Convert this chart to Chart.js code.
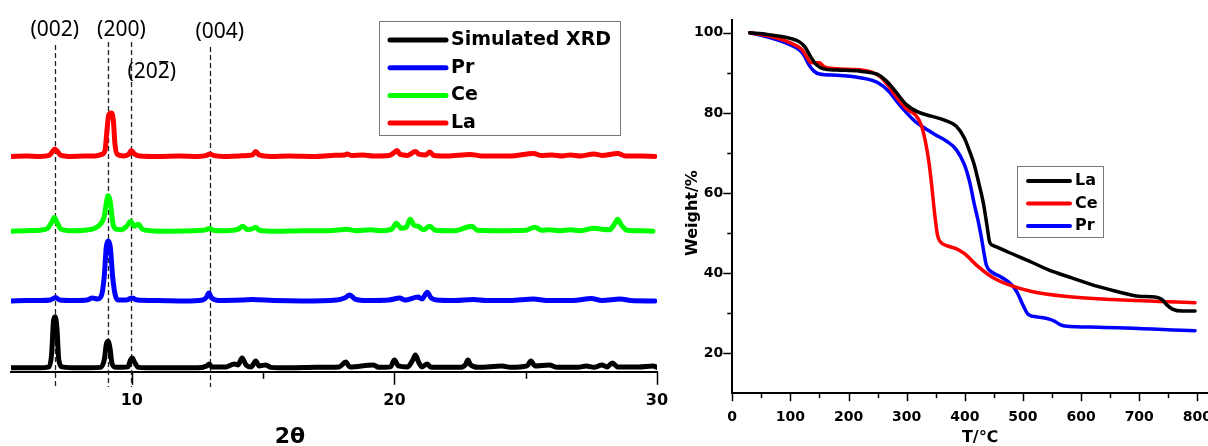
<!DOCTYPE html>
<html>
<head>
<meta charset="utf-8">
<title>XRD patterns and TGA curves</title>
<script src="https://cdn.jsdelivr.net/npm/chart.js@4.4.0/dist/chart.umd.min.js"></script>
<style>
  html, body { margin: 0; padding: 0; background: #fff; }
  body { position: relative; width: 1208px; height: 446px; overflow: hidden; }
  canvas { position: absolute; top: 0; }
  #xrd { left: 0; }
  #tga { left: 675px; }
</style>
</head>
<body>
<canvas id="xrd" width="675" height="446"></canvas>
<canvas id="tga" width="545" height="446"></canvas>
<script>
// ---------- XRD: [2θ, intensity a.u.], each pattern lifted by its own offset ----------
const xrdNames = ['Simulated XRD', 'Pr', 'Ce', 'La'];
const xrdColors = ['#000000', '#0000ff', '#00ff00', '#ff0000'];
const xrdOffsets = [4, 72, 143, 219];

const simulated = [
  [5.4,0],[6.5,0],[6.85,1],[6.95,15],[7.02,48],[7.08,52],[7.15,40],[7.22,8],[7.35,1],[8,0],
  [8.8,0.5],[8.95,8],[9.03,24],[9.1,27],[9.17,20],[9.25,4],[9.4,0.5],[9.85,1],[9.95,8],[10.02,10],
  [10.1,6],[10.25,0.5],[11,0],[12.5,0],[12.85,2],[12.95,4],[13.05,1],[13.6,1],[13.9,4],[14.05,3],
  [14.2,10],[14.35,3],[14.55,1],[14.72,7],[14.85,2],[15.1,3],[15.3,0.5],[16,0],[17,0.5],[17.9,1],
  [18.15,6],[18.3,1],[19.2,3],[19.4,0.5],[19.85,1],[20.0,8],[20.15,2],[20.5,1],[20.7,8],[20.8,13],
  [20.92,6],[21.05,1],[21.25,4],[21.4,0.5],[22.5,0.5],[22.7,3],[22.8,8],[22.9,3],[23.2,0.5],[24.1,2],
  [24.4,0.5],[25.05,2],[25.2,7],[25.35,2],[25.9,3],[26.2,0.5],[27,0.5],[27.3,2],[27.6,0.5],[27.9,3],
  [28.1,1],[28.3,5],[28.5,1],[29.3,1],[29.85,2],[30,0.5]
];
const pr = [
  [5.4,0],[6,0.5],[6.5,0.5],[6.9,1],[7.1,3.5],[7.25,1],[7.8,0.5],[8.3,1],[8.5,3],[8.7,2],
  [8.85,6],[8.95,25],[9.03,55],[9.1,61],[9.18,55],[9.27,25],[9.37,6],[9.5,1],[9.8,1],[10.0,3],
  [10.2,1],[11,0.5],[12,0],[12.7,1],[12.85,4],[12.93,8],[13.05,3],[13.3,0.5],[14.2,1],[14.6,1.5],
  [15.4,0.5],[16.5,0],[17.8,1],[18.1,3],[18.3,6],[18.5,2],[19,0.5],[19.8,1],[20.2,3],[20.4,1],
  [20.9,4],[21.05,2],[21.25,9],[21.4,3],[21.6,1],[22.3,0.5],[23.0,1.5],[23.5,0.5],[24.4,0.5],[25.3,2],
  [25.8,0.5],[26.8,0.5],[27.5,2.5],[27.9,0.5],[28.6,2],[29,0.5],[29.92,0]
];
const ce = [
  [5.4,0],[6,0.5],[6.5,1],[6.8,3],[6.95,9],[7.05,14],[7.15,9],[7.3,2],[7.6,0.5],[8.2,1],
  [8.6,3],[8.8,7],[8.95,15],[9.04,30],[9.1,36],[9.18,30],[9.28,8],[9.4,2],[9.6,1.5],[9.8,5],
  [9.96,10],[10.1,5],[10.25,7],[10.4,2],[10.7,0.5],[11.5,0],[12.4,0.5],[12.85,1.5],[12.97,3],[13.1,1],
  [13.6,0.5],[14.05,2],[14.23,5],[14.4,1.5],[14.6,2.5],[14.72,4],[14.85,1],[15.5,0],[16.5,0.5],[17.5,0.5],
  [18.2,2],[18.5,0.5],[19.1,1.5],[19.5,0.5],[19.9,2],[20.08,8],[20.25,3],[20.45,4],[20.6,12],[20.75,6],
  [20.9,5],[21.1,1.5],[21.35,5],[21.55,1],[22.3,0.5],[22.95,5],[23.15,1],[24,0.5],[25.0,1],[25.35,4],
  [25.6,1],[25.9,1.5],[26.3,0.5],[26.7,1.5],[27.1,0.5],[27.6,3],[27.9,2],[28.2,1.5],[28.4,8],[28.5,12],
  [28.65,6],[28.85,1],[29.4,0.5],[29.85,0]
];
const la = [
  [5.4,0],[6,0.5],[6.5,0],[6.85,1],[6.98,5],[7.07,7.5],[7.17,5],[7.3,1],[7.6,0],[8.2,0.5],
  [8.6,0.5],[8.85,2],[8.98,6],[9.05,25],[9.12,42],[9.22,44],[9.3,36],[9.36,12],[9.45,2],[9.7,0.5],
  [9.88,2],[9.98,6],[10.1,2.5],[10.3,0.5],[11,0],[11.8,0.5],[12.5,0],[12.85,1],[12.97,2.5],[13.1,1],
  [13.5,0],[14.1,0.5],[14.6,1.5],[14.72,5],[14.85,1.5],[15.3,0],[16,0.5],[17,0],[17.6,1],[18.1,1.5],
  [18.2,2.5],[18.35,1],[18.8,1.5],[19.2,0.5],[19.8,1],[20.0,4],[20.1,6],[20.22,2],[20.5,1],[20.8,5],
  [20.95,2],[21.2,1.5],[21.35,4.5],[21.5,1],[22,0.5],[22.9,2],[23.3,0.5],[24.4,0.5],[25.3,3],[25.6,0.8],
  [26.0,1.5],[26.4,0.5],[26.7,1.5],[27.1,0.5],[27.6,2.5],[27.9,1],[28.5,3],[28.8,0.5],[29.4,0.5],[29.92,0]
];
const xrdPatterns = [simulated, pr, ce, la];

const hklPos = [7.07, 9.09, 9.96, 12.97];
const hklLabels = ['(002)', '(200)', '(202\u0304)', '(004)'];
const twoThetaTicks = [10, 15, 20, 25, 30];
const twoThetaLabelled = [10, 20, 30];

// ---------- TGA: [T / °C, weight %] ----------
const tgaNames = ['La', 'Ce', 'Pr'];
const tgaColors = ['#000000', '#ff0000', '#0000ff'];
const tgaLa = [
  [30,100],[60,99.6],[100,98.6],[115,97.8],[125,96.5],[135,94],[145,92],[157,91],[180,90.7],[220,90.4],
  [250,89.6],[265,88],[280,85.5],[300,82],[320,80.2],[342,79.2],[365,78.2],[385,76.7],[399,73.8],[408,70.5],
  [416,67.2],[424,62.5],[432,57.4],[438,52],[443,47.6],[450,46.8],[475,45.2],[515,42.7],[544,40.8],[584,38.8],
  [630,36.6],[670,35.1],[699,34.2],[727,34],[739,33.4],[748,32],[757,31],[774,30.5],[796,30.5]
];
const tgaCe = [
  [30,100],[60,99.3],[100,97.5],[120,95.8],[128,94],[135,92.6],[150,92.5],[158,91.5],[165,91.2],[200,90.9],
  [240,90.2],[255,89],[270,86.5],[285,83.5],[300,81],[315,79.5],[325,77],[332,73],[338,68],[343,62],
  [348,55],[353,49.5],[358,47.8],[370,46.8],[385,46.1],[399,44.9],[420,42],[446,39.1],[475,37.1],[515,35.4],
  [572,34.2],[653,33.4],[796,32.6]
];
const tgaPr = [
  [30,100],[60,99],[100,97],[115,95.8],[123,94.5],[132,92],[140,90.5],[150,89.7],[180,89.4],[220,88.8],
  [250,87.6],[270,85.3],[285,82.5],[300,80],[315,77.8],[330,76.3],[350,74.5],[370,72.8],[385,70.9],[399,67.2],
  [408,63],[416,57.4],[423,53],[428,49.3],[433,45],[437,42],[446,40.3],[460,39.2],[475,37.8],[485,36.3],
  [492,34.6],[500,32],[509,29.7],[527,29],[545,28.5],[554,28],[563,27.2],[572,26.8],[630,26.5],[796,25.6]
];
const tgaCurves = [tgaLa, tgaCe, tgaPr];

const tempTicks = [0, 50, 100, 150, 200, 250, 300, 350, 400, 450, 500, 550, 600, 650, 700, 750, 800];
const tempLabelled = [0, 100, 200, 300, 400, 500, 600, 700, 800];
const weightTicks = [20, 30, 40, 50, 60, 70, 80, 90, 100];
const weightLabelled = [20, 40, 60, 80, 100];

// ---------- shared bits ----------
const BOLD = "'DejaVu Sans', sans-serif";
const MACRON = '\u0304';

// major ticks long, minor ticks short; Chart.js only has one tick length
const tickMarks = {
  id: 'tickMarks',
  afterDraw(chart, args, o) {
    const ctx = chart.ctx;
    ctx.save();
    ctx.strokeStyle = '#000';
    ctx.lineWidth = o.width;
    for (const id of Object.keys(o.scales)) {
      const s = chart.scales[id], spec = o.scales[id];
      for (const t of s.ticks) {
        const len = t.major ? spec.major : spec.minor;
        const p = Math.round(s.getPixelForValue(t.value)) + 0.5;
        ctx.beginPath();
        if (s.isHorizontal()) { ctx.moveTo(p, s.top); ctx.lineTo(p, s.top + len); }
        else { ctx.moveTo(s.right, p); ctx.lineTo(s.right - len, p); }
        ctx.stroke();
      }
    }
    ctx.restore();
  }
};

// boxed legend built from the datasets
const boxLegend = {
  id: 'boxLegend',
  afterDraw(chart, args, o) {
    const ctx = chart.ctx;
    ctx.save();
    ctx.fillStyle = '#fff';
    ctx.fillRect(o.x, o.y, o.w, o.h);
    ctx.strokeStyle = '#777';
    ctx.lineWidth = 1;
    ctx.strokeRect(o.x + 0.5, o.y + 0.5, o.w, o.h);
    ctx.font = o.font;
    ctx.textBaseline = 'middle';
    ctx.lineCap = 'round';
    chart.data.datasets.forEach((ds, i) => {
      const yy = o.y + o.first + i * o.row;
      ctx.strokeStyle = ds.borderColor;
      ctx.lineWidth = o.lineWidth;
      ctx.beginPath();
      ctx.moveTo(o.x + o.lx0, yy);
      ctx.lineTo(o.x + o.lx1, yy);
      ctx.stroke();
      ctx.fillStyle = '#000';
      ctx.fillText(ds.label, o.x + o.tx, yy);
    });
    ctx.restore();
  }
};

// free-standing axis titles
const freeTitles = {
  id: 'freeTitles',
  afterDraw(chart, args, o) {
    const ctx = chart.ctx;
    ctx.save();
    ctx.fillStyle = '#000';
    ctx.textAlign = 'center';
    ctx.textBaseline = 'middle';
    for (const t of o.items) {
      ctx.save();
      ctx.translate(t.x, t.y);
      if (t.rotate) ctx.rotate(t.rotate);
      ctx.font = t.font;
      ctx.fillText(t.text, 0, 0);
      ctx.restore();
    }
    ctx.restore();
  }
};

// Miller index text: a combining macron becomes a bar over the digit before it
// (the fonts place U+0304 badly, so the bar is stroked by hand)
function drawIndex(ctx, label, cx, cy, barY) {
  const plain = label.replace(new RegExp(MACRON, 'g'), '');
  const left = cx - ctx.measureText(plain).width / 2;
  ctx.textAlign = 'left';
  ctx.fillText(plain, left, cy);
  let k = 0;
  for (let i = 0; i < label.length; i++) {
    if (label[i] === MACRON) {
      const x0 = left + ctx.measureText(plain.slice(0, k - 1)).width;
      const w = ctx.measureText(plain[k - 1]).width;
      ctx.fillRect(x0 + w * 0.12, barY, w * 0.76, 1.6);
    } else {
      k++;
    }
  }
}

// dashed reflection markers with their Miller indices
const hklMarks = {
  id: 'hklMarks',
  beforeDatasetsDraw(chart, args, o) {
    const ctx = chart.ctx, x = chart.scales.x;
    ctx.save();
    ctx.strokeStyle = '#222';
    ctx.lineWidth = 1.3;
    ctx.setLineDash([5, 3]);
    hklPos.forEach((v, i) => {
      const px = Math.round(x.getPixelForValue(v)) + 0.5;
      ctx.beginPath();
      ctx.moveTo(px, o.top[i]);
      ctx.lineTo(px, o.bottom);
      ctx.stroke();
    });
    ctx.setLineDash([]);
    ctx.font = o.font;
    ctx.fillStyle = '#000';
    ctx.textBaseline = 'middle';
    hklLabels.forEach((t, i) => {
      drawIndex(ctx, t, x.getPixelForValue(hklPos[i]) + o.dx[i], o.labelY[i], o.labelY[i] - 11);
    });
    ctx.restore();
  }
};

const pts = arr => arr.map(p => ({ x: p[0], y: p[1] }));
const tickList = (vals, majors) => s => { s.ticks = vals.map(v => ({ value: v, major: majors.includes(v) })); };
const majorOnly = (v, i, ticks) => (ticks[i].major ? String(v) : '');

// ---------- XRD chart ----------
new Chart(document.getElementById('xrd'), {
  type: 'line',
  data: {
    datasets: xrdPatterns.map((p, i) => ({
      label: xrdNames[i],
      data: p.map(q => ({ x: q[0], y: q[1] + xrdOffsets[i] })),
      borderColor: xrdColors[i],
      borderWidth: 5,
      pointRadius: 0,
      cubicInterpolationMode: 'monotone',
      borderJoinStyle: 'round',
      borderCapStyle: 'round'
    }))
  },
  options: {
    responsive: false,
    animation: false,
    events: [],
    layout: { autoPadding: false, padding: { left: 11, right: 18, top: 0, bottom: 30 } },
    scales: {
      x: {
        type: 'linear', min: 5.4, max: 30,
        afterBuildTicks: tickList(twoThetaTicks, twoThetaLabelled),
        grid: { drawOnChartArea: false, tickLength: 13, tickColor: 'transparent' },
        border: { color: '#000', width: 2 },
        ticks: { padding: 6, autoSkip: false, maxRotation: 0, color: '#000',
                 font: { family: BOLD, size: 16, weight: 'bold' }, callback: majorOnly }
      },
      y: { display: false, min: 0, max: 378 }
    },
    plugins: {
      legend: { display: false },
      tooltip: { enabled: false },
      tickMarks: { width: 1.5, scales: { x: { major: 13, minor: 7 } } },
      hklMarks: {
        top: [45, 42, 42, 47], bottom: 387,
        dx: [0, 13.5, 21, 10], labelY: [30, 30, 72, 32],
        font: "21px 'Noto Sans', sans-serif"
      },
      boxLegend: {
        x: 379, y: 21, w: 241, h: 114, first: 19, row: 27.7,
        lx0: 11, lx1: 67, tx: 72, lineWidth: 5,
        font: `bold 19px ${BOLD}`
      },
      freeTitles: { items: [{ text: '2θ', x: 290, y: 437, font: `bold 22px ${BOLD}` }] }
    }
  },
  plugins: [hklMarks, tickMarks, boxLegend, freeTitles]
});

// ---------- TGA chart ----------
new Chart(document.getElementById('tga'), {
  type: 'line',
  data: {
    datasets: tgaCurves.map((c, i) => ({
      label: tgaNames[i],
      data: pts(c),
      borderColor: tgaColors[i],
      borderWidth: 3.5,
      pointRadius: 0,
      cubicInterpolationMode: 'monotone',
      borderJoinStyle: 'round',
      borderCapStyle: 'round'
    }))
  },
  options: {
    responsive: false,
    animation: false,
    events: [],
    layout: { autoPadding: false, padding: { left: 19, right: 0, top: 20, bottom: 12 } },
    scales: {
      x: {
        type: 'linear', min: 0, max: 822,
        afterBuildTicks: tickList(tempTicks, tempLabelled),
        grid: { drawOnChartArea: false, tickLength: 8, tickColor: 'transparent' },
        border: { color: '#000', width: 2 },
        ticks: { padding: 8, autoSkip: false, maxRotation: 0, color: '#000',
                 font: { family: BOLD, size: 14, weight: 'bold' }, callback: majorOnly }
      },
      y: {
        min: 10, max: 103.2,
        afterBuildTicks: tickList(weightTicks, weightLabelled),
        grid: { drawOnChartArea: false, tickLength: 9, tickColor: 'transparent' },
        border: { color: '#000', width: 2 },
        ticks: { padding: 0, autoSkip: false, color: '#000',
                 font: { family: BOLD, size: 14, weight: 'bold' }, callback: majorOnly }
      }
    },
    plugins: {
      legend: { display: false },
      tooltip: { enabled: false },
      tickMarks: { width: 1.5, scales: { x: { major: 8, minor: 5 }, y: { major: 9, minor: 5 } } },
      boxLegend: {
        x: 342, y: 166, w: 86, h: 71, first: 15, row: 22.5,
        lx0: 11, lx1: 53, tx: 58, lineWidth: 4,
        font: `bold 16px ${BOLD}`
      },
      freeTitles: {
        items: [
          { text: 'Weight/%', x: 18, y: 213, rotate: -Math.PI / 2, font: `bold 16px ${BOLD}` },
          { text: 'T/℃', x: 305, y: 438, font: `bold 16px ${BOLD}, 'Noto Sans CJK SC'` }
        ]
      }
    }
  },
  plugins: [tickMarks, boxLegend, freeTitles]
});
</script>
</body>
</html>
